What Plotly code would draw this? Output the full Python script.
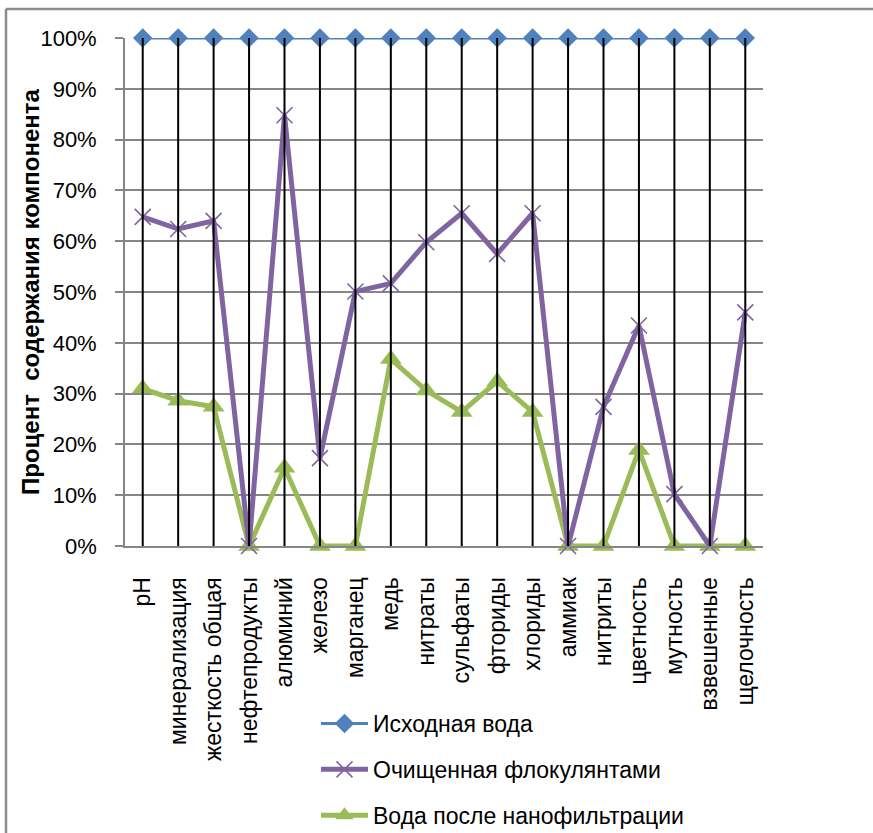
import plotly.graph_objects as go

# Показатели качества воды
categories = [
    "pH", "минерализация", "жесткость общая", "нефтепродукты", "алюминий",
    "железо", "марганец", "медь", "нитраты", "сульфаты", "фториды",
    "хлориды", "аммиак", "нитриты", "цветность", "мутность",
    "взвешенные", "щелочность",
]

# Процент содержания компонента, %
source_water = [100] * 18
flocculant_water = [64.8, 62.4, 64.0, 0, 84.8, 17.3, 50.1, 51.7, 59.8,
                    65.5, 57.5, 65.5, 0, 27.4, 43.4, 10.2, 0, 46.0]
nanofiltration_water = [31.0, 28.6, 27.4, 0, 15.4, 0, 0, 36.8, 30.6,
                        26.4, 32.4, 26.4, 0, 0, 18.9, 0, 0, 0]

y_ticks = list(range(0, 101, 10))
y_tick_labels = [f"{v}%" for v in y_ticks]

series_names = ["Исходная вода", "Очищенная флокулянтами", "Вода после нанофильтрации"]

BLUE = "#4F81BD"
PURPLE = "#8064A2"
GREEN = "#9BBB59"
GRID_GRAY = "#868686"
BORDER_GRAY = "#8C8C8C"
FONT = "Liberation Sans, Arial, sans-serif"

W, H = 873, 833
M_L, M_R, M_T, M_B = 125, 110, 38, 287
PLOT_W = W - M_L - M_R
PLOT_H = H - M_T - M_B


def px_to_paper_x(px):
    return (px - M_L) / PLOT_W


def px_to_paper_y(py):
    return (H - M_B - py) / PLOT_H


fig = go.Figure()

fig.add_trace(go.Scatter(
    x=categories, y=source_water, name=series_names[0],
    mode="lines+markers", legendgroup="a", legendrank=1,
    line=dict(color=BLUE, width=3),
    marker=dict(symbol="diamond", size=15, color=BLUE),
    cliponaxis=False,
))
fig.add_trace(go.Scatter(
    x=categories, y=nanofiltration_water, name=series_names[2],
    mode="lines+markers", legendgroup="c", legendrank=3,
    line=dict(color=GREEN, width=5),
    marker=dict(symbol="triangle-up", size=19, color=GREEN),
    cliponaxis=False,
))
fig.add_trace(go.Scatter(
    x=categories, y=flocculant_water, name=series_names[1],
    mode="lines+markers", legendgroup="b", legendrank=2,
    line=dict(color=PURPLE, width=5),
    marker=dict(symbol="x-thin", size=16, color=PURPLE,
                line=dict(color=PURPLE, width=1.6)),
    cliponaxis=False,
))

# Вертикальные линии от оси категорий до 100 %
shapes = []
for cat in categories:
    shapes.append(dict(
        type="line", xref="x", yref="y", x0=cat, x1=cat, y0=0, y1=100,
        line=dict(color="black", width=2), layer="above",
    ))

# Рамка области диаграммы (верх и левый край)
shapes.append(dict(
    type="line", xref="paper", yref="paper",
    x0=px_to_paper_x(6), x1=px_to_paper_x(W + 5),
    y0=px_to_paper_y(9), y1=px_to_paper_y(9),
    line=dict(color=BORDER_GRAY, width=2.5), layer="above",
))
shapes.append(dict(
    type="line", xref="paper", yref="paper",
    x0=px_to_paper_x(6), x1=px_to_paper_x(6),
    y0=px_to_paper_y(9), y1=px_to_paper_y(H + 5),
    line=dict(color=BORDER_GRAY, width=2.5), layer="above",
))

fig.update_layout(
    width=W, height=H,
    margin=dict(l=M_L, r=M_R, t=M_T, b=M_B, pad=0, autoexpand=False),
    paper_bgcolor="white", plot_bgcolor="white",
    font=dict(family=FONT, size=23, color="black"),
    shapes=shapes,
    showlegend=True,
    legend=dict(
        x=px_to_paper_x(316), y=px_to_paper_y(702),
        xanchor="left", yanchor="top",
        orientation="v", traceorder="grouped",
        tracegroupgap=13, itemwidth=47,
        font=dict(family=FONT, size=23, color="black"),
        bgcolor="rgba(0,0,0,0)",
    ),
    annotations=[dict(
        text="<b>Процент  содержания компонента</b>",
        xref="paper", yref="paper",
        x=px_to_paper_x(30), y=0.5,
        xanchor="center", yanchor="middle",
        textangle=-90, showarrow=False,
        font=dict(family=FONT, size=24, color="black"),
    )],
)

fig.update_xaxes(
    type="category", categoryorder="array", categoryarray=categories,
    range=[-0.5, len(categories) - 0.5],
    showgrid=False, zeroline=False,
    showline=True, linecolor=GRID_GRAY, linewidth=2,
    ticks="", tickangle=-90, ticklabelstandoff=20,
    tickfont=dict(family=FONT, size=23, color="black"),
    automargin=False, fixedrange=True,
)
fig.update_yaxes(
    range=[0, 100], tickmode="array", tickvals=y_ticks, ticktext=y_tick_labels,
    showgrid=True, gridcolor=GRID_GRAY, gridwidth=1.8,
    zeroline=False,
    showline=True, linecolor=GRID_GRAY, linewidth=1.8,
    ticks="outside", ticklen=8, tickcolor=GRID_GRAY, tickwidth=1.8,
    ticklabelstandoff=14,
    tickfont=dict(family=FONT, size=22, color="black"),
    automargin=False, fixedrange=True,
)

fig.write_html("out.html")
